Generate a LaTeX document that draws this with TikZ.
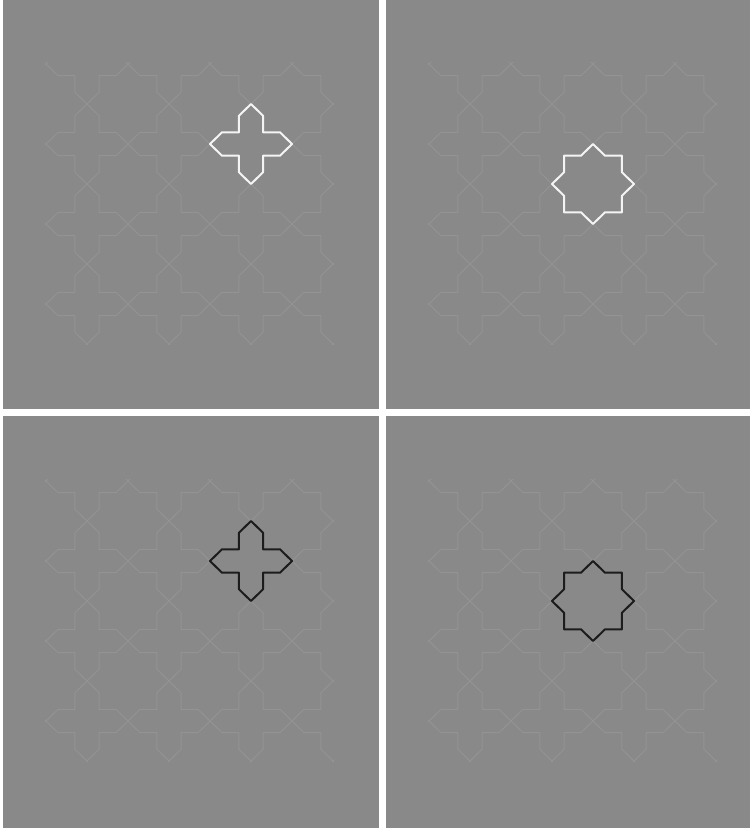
\documentclass[tikz,border=0pt]{standalone}
\definecolor{panelgray}{HTML}{898989}
\definecolor{faint}{HTML}{939393}
\definecolor{hidark}{HTML}{1C1C1C}
\definecolor{hilight}{HTML}{F4F4F4}
\def\sa{0.2929}
\def\sb{0.7071}
\tikzset{
  star8/.pic={\path[pic actions] (0,1) -- (\sa,\sb) -- (\sb,\sb) -- (\sb,\sa) -- (1,0) -- (\sb,-\sa) -- (\sb,-\sb) -- (\sa,-\sb) -- (0,-1) -- (-\sa,-\sb) -- (-\sb,-\sb) -- (-\sb,-\sa) -- (-1,0) -- (-\sb,\sa) -- (-\sb,\sb) -- (-\sa,\sb) -- cycle;},
  cross4/.pic={\path[pic actions] (0,-1) -- (-\sa,-\sb) -- (-\sa,-\sa) -- (-\sb,-\sa) -- (-1,0) -- (-\sb,\sa) -- (-\sa,\sa) -- (-\sa,\sb) -- (0,1) -- (\sa,\sb) -- (\sa,\sa) -- (\sb,\sa) -- (1,0) -- (\sb,-\sa) -- (\sa,-\sa) -- (\sa,-\sb) -- cycle;},
  faintline/.style={draw=faint, line width=1pt, line join=round},
  hilite/.style={line width=2pt, line join=round},
  panelbg/.style={fill=panelgray}
}
\newcommand{\faintpattern}{%
  \begin{scope}
    \clip (-0.02,-1.03) rectangle (7.03,6.0);
    \foreach \i in {0,...,4} {\foreach \j in {-1,...,3} {\pic[faintline] at (2*\i,2*\j) {star8};}}
  \end{scope}}
\begin{document}
\begin{tikzpicture}[x=1pt,y=-1pt]
\useasboundingbox (0,0) rectangle (750,828);
\fill[white] (0,0) rectangle (750,828);
% panels
\fill[panelbg] (2.5,0) rectangle (379,409);
\fill[panelbg] (386,0) rectangle (750,409);
\fill[panelbg] (2.5,416) rectangle (379,828);
\fill[panelbg] (386,416) rectangle (750,828);
% top-left: white cross
\begin{scope}[shift={(46,104)}, x=41pt, y=-40pt]
  \faintpattern
  \pic[hilite, draw=hilight] at (5,1) {cross4};
\end{scope}
% top-right: white star
\begin{scope}[shift={(429,104)}, x=41pt, y=-40pt]
  \faintpattern
  \pic[hilite, draw=hilight] at (4,2) {star8};
\end{scope}
% bottom-left: dark cross
\begin{scope}[shift={(46,521)}, x=41pt, y=-40pt]
  \faintpattern
  \pic[hilite, draw=hidark] at (5,1) {cross4};
\end{scope}
% bottom-right: dark star
\begin{scope}[shift={(429,521)}, x=41pt, y=-40pt]
  \faintpattern
  \pic[hilite, draw=hidark] at (4,2) {star8};
\end{scope}
\end{tikzpicture}
\end{document}
